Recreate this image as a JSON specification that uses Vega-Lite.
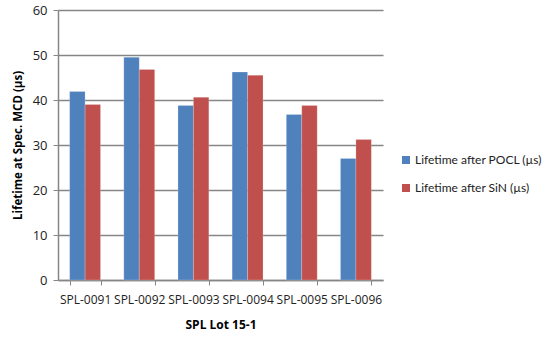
{
  "$schema": "https://vega.github.io/schema/vega-lite/v6.json",
  "width": 325,
  "height": 270,
  "autosize": "none",
  "padding": {"left": 58, "top": 10, "right": 162, "bottom": 57},
  "background": "white",
  "config": {
    "font": "Open Sans",
    "view": {"stroke": null}
  },
  "data": {
    "values": [
      {"lot": "SPL-0091", "series": "Lifetime after POCL (µs)", "value": 41.9},
      {"lot": "SPL-0091", "series": "Lifetime after SiN (µs)", "value": 39.0},
      {"lot": "SPL-0092", "series": "Lifetime after POCL (µs)", "value": 49.5},
      {"lot": "SPL-0092", "series": "Lifetime after SiN (µs)", "value": 46.8},
      {"lot": "SPL-0093", "series": "Lifetime after POCL (µs)", "value": 38.8},
      {"lot": "SPL-0093", "series": "Lifetime after SiN (µs)", "value": 40.6},
      {"lot": "SPL-0094", "series": "Lifetime after POCL (µs)", "value": 46.2},
      {"lot": "SPL-0094", "series": "Lifetime after SiN (µs)", "value": 45.5},
      {"lot": "SPL-0095", "series": "Lifetime after POCL (µs)", "value": 36.8},
      {"lot": "SPL-0095", "series": "Lifetime after SiN (µs)", "value": 38.8},
      {"lot": "SPL-0096", "series": "Lifetime after POCL (µs)", "value": 27.0},
      {"lot": "SPL-0096", "series": "Lifetime after SiN (µs)", "value": 31.2}
    ]
  },
  "mark": {"type": "bar", "stroke": "white", "strokeOpacity": 0.4, "strokeWidth": 0.5},
  "encoding": {
    "x": {
      "field": "lot",
      "type": "nominal",
      "scale": {"paddingInner": 0.43, "paddingOuter": 0.215},
      "axis": {
        "title": "SPL Lot 15-1",
        "titleFontSize": 12,
        "titleFontWeight": "bold",
        "titleColor": "#000",
        "titlePadding": 14,
        "labelAngle": 0,
        "labelFontSize": 12,
        "labelColor": "#222",
        "labelPadding": 9,
        "tickBand": "extent",
        "tickColor": "#868686",
        "tickSize": 5,
        "domainColor": "#868686",
        "domainWidth": 1.5,
        "grid": false
      }
    },
    "xOffset": {"field": "series", "type": "nominal"},
    "y": {
      "field": "value",
      "type": "quantitative",
      "scale": {"domain": [0, 60], "nice": false},
      "axis": {
        "title": "Lifetime at Spec. MCD (µs)",
        "titleFontSize": 11.5,
        "titleFontWeight": "bold",
        "titleColor": "#000",
        "titlePadding": 9,
        "values": [0, 10, 20, 30, 40, 50, 60],
        "labelFontSize": 13,
        "labelColor": "#222",
        "labelPadding": 6,
        "tickColor": "#868686",
        "tickSize": 5,
        "domainColor": "#868686",
        "domainWidth": 1.5,
        "gridColor": "#868686",
        "gridWidth": 1.5
      }
    },
    "color": {
      "field": "series",
      "type": "nominal",
      "scale": {"range": ["#4F81BD", "#C0504D"]},
      "legend": {
        "title": null,
        "orient": "none",
        "legendX": 342,
        "legendY": 144,
        "symbolType": "square",
        "symbolSize": 64,
        "symbolStrokeWidth": 0,
        "labelFont": "Lato",
        "labelFontSize": 12,
        "labelColor": "#222",
        "labelOffset": 3,
        "labelLimit": 0,
        "rowPadding": 16
      }
    }
  }
}
